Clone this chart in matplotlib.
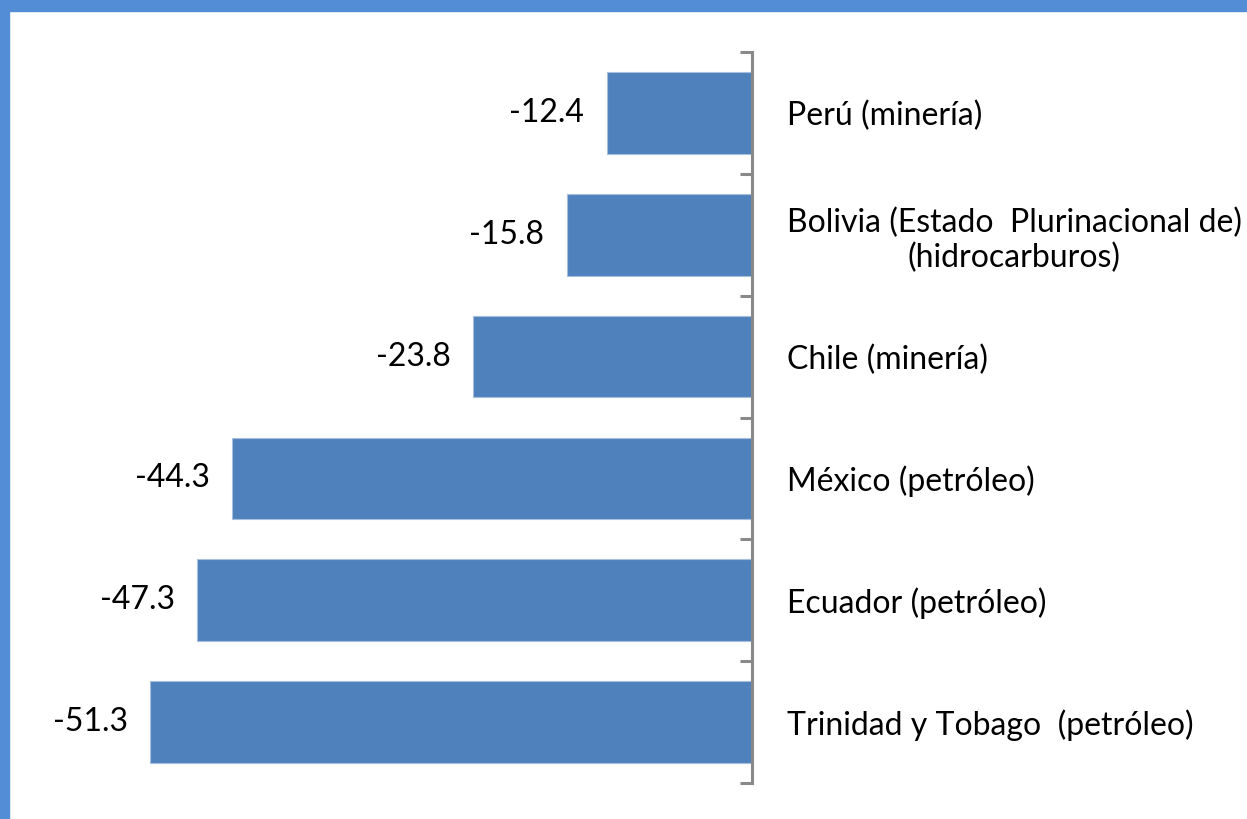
import matplotlib.pyplot as plt
from matplotlib.patches import Rectangle

categories = [
    "Perú (minería)",
    "Bolivia (Estado  Plurinacional de)\n(hidrocarburos)",
    "Chile (minería)",
    "México (petróleo)",
    "Ecuador (petróleo)",
    "Trinidad y Tobago  (petróleo)",
]
values = [-12.4, -15.8, -23.8, -44.3, -47.3, -51.3]

BAR_COLOR = "#4F81BD"
FRAME_COLOR = "#538DD5"
AXIS_COLOR = "#898989"
FONT = ["Lato", "DejaVu Sans"]

fig = plt.figure(figsize=(12.47, 8.19), dpi=100)
ax = fig.add_axes([48 / 1247, 36 / 819, 704 / 1247, 731 / 819])

y = list(range(len(categories)))
ax.barh(y, values, height=0.67, color=BAR_COLOR, edgecolor="#A7BFDE", linewidth=0.8)
ax.set_xlim(-60, 0)
ax.set_ylim(len(categories) - 0.5, -0.5)

for yi, v in zip(y, values):
    ax.annotate(f"{v:.1f}", (v, yi), xytext=(-16, 0), textcoords="offset points",
                ha="right", va="center", fontsize=23, family=FONT, color="black")

for side in ("left", "top", "bottom"):
    ax.spines[side].set_visible(False)
ax.spines["right"].set_color(AXIS_COLOR)
ax.spines["right"].set_linewidth(2.2)
ax.set_xticks([])

ax.yaxis.tick_right()
ax.set_yticks(y)
ax.set_yticklabels(categories, fontsize=23, family=FONT)
for lbl in ax.get_yticklabels():
    lbl.set_multialignment("center")
ax.set_yticks([i - 0.5 for i in range(len(categories) + 1)], minor=True)
ax.tick_params(axis="y", which="major", length=0, pad=25)
ax.tick_params(axis="y", which="minor", length=9, width=2.2, color=AXIS_COLOR,
               direction="in")

fig.patches.append(Rectangle((0, 1 - 11 / 819), 1, 11 / 819, transform=fig.transFigure,
                             color=FRAME_COLOR, zorder=10))
fig.patches.append(Rectangle((0, 0), 9 / 1247, 1, transform=fig.transFigure,
                             color=FRAME_COLOR, zorder=10))

fig.savefig("out.png", dpi=100)
